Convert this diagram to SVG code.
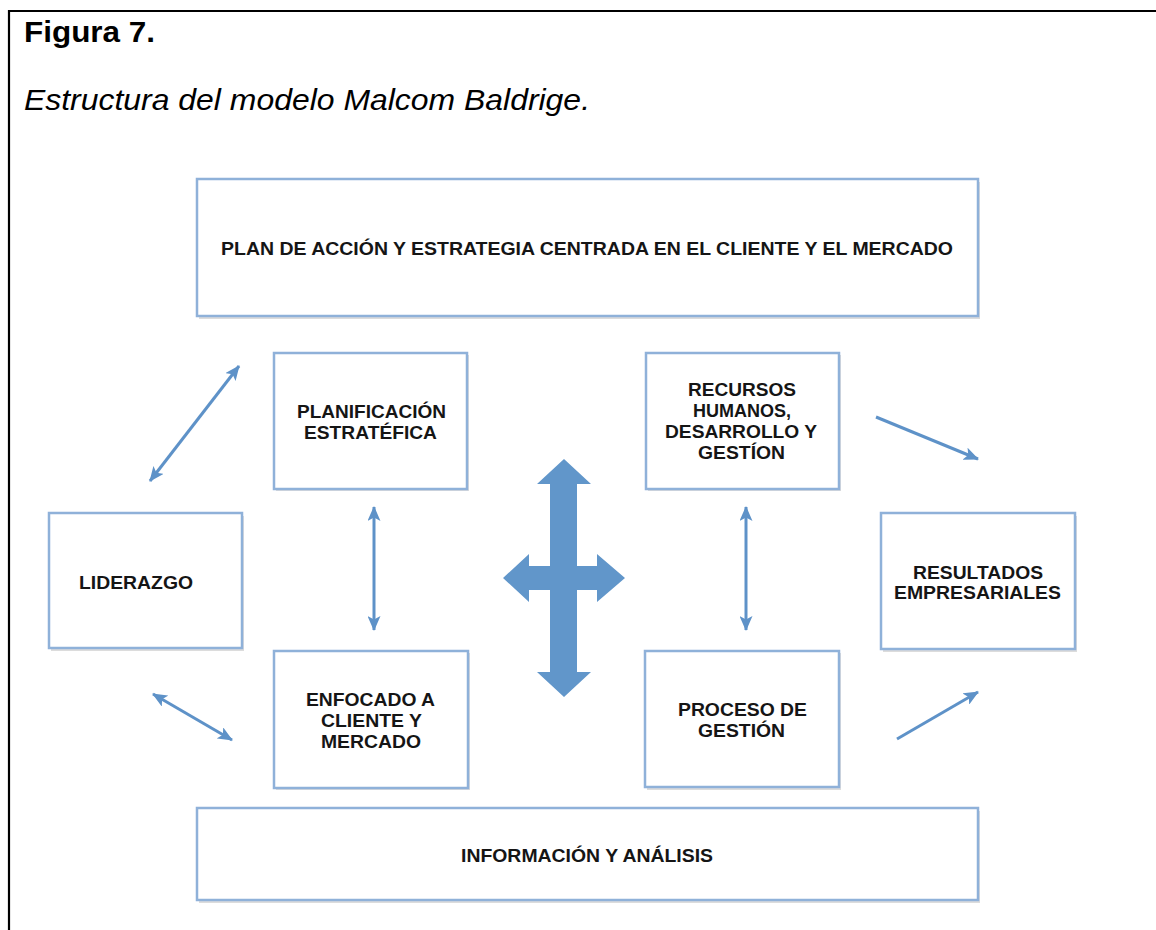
<svg xmlns="http://www.w3.org/2000/svg" width="1156" height="930" viewBox="0 0 1156 930">
  <defs>
    <style>
      .frame { stroke: #000; stroke-width: 2.2; fill: none; }
      .box { fill: #fff; stroke: #8fb1d9; stroke-width: 2.5; }
      .shadow { fill: #dcdcdc; stroke: none; }
      .lbl { font-family: "Liberation Sans", Arial, sans-serif; font-weight: bold; font-size: 18px; fill: #151515; }
      .title { font-family: "Liberation Sans", Arial, sans-serif; font-weight: bold; font-size: 29px; fill: #000; }
      .sub { font-family: "Liberation Sans", Arial, sans-serif; font-style: italic; font-size: 29px; fill: #000; }
      .conn { stroke: #5e92c8; stroke-width: 3; fill: none; }
      .big { fill: #6196ca; }
    </style>
    <marker id="ah" viewBox="0 0 15 13" refX="14" refY="6.5" markerWidth="15" markerHeight="13" markerUnits="userSpaceOnUse" orient="auto-start-reverse">
      <path d="M0,0 L15,6.5 L0,13 L3.5,6.5 Z" fill="#5e92c8"/>
    </marker>
  </defs>

  <g id="frame">
    <line class="frame" x1="9" y1="11" x2="1156" y2="11"/>
    <line class="frame" x1="9" y1="10" x2="9" y2="930"/>
  </g>

  <g id="caption">
    <text class="title" x="24" y="42" textLength="131" lengthAdjust="spacingAndGlyphs">Figura 7.</text>
    <text class="sub" x="24" y="110" textLength="566" lengthAdjust="spacingAndGlyphs">Estructura del modelo Malcom Baldrige.</text>
  </g>

  <g id="node-plan">
    <rect class="shadow" x="199" y="182" width="781" height="137"/>
    <rect class="box" x="197" y="179" width="781" height="137"/>
    <text class="lbl" x="221" y="255" textLength="732" lengthAdjust="spacingAndGlyphs">PLAN DE ACCIÓN Y ESTRATEGIA CENTRADA EN EL CLIENTE Y EL MERCADO</text>
  </g>

  <g id="node-planificacion">
    <rect class="shadow" x="276" y="355" width="193" height="136"/>
    <rect class="box" x="274" y="353" width="193" height="136"/>
    <text class="lbl" x="297" y="418" textLength="149" lengthAdjust="spacingAndGlyphs">PLANIFICACIÓN</text>
    <text class="lbl" x="304" y="439" textLength="133" lengthAdjust="spacingAndGlyphs">ESTRATÉFICA</text>
  </g>

  <g id="node-recursos">
    <rect class="shadow" x="648" y="355" width="193" height="136"/>
    <rect class="box" x="646" y="353" width="193" height="136"/>
    <text class="lbl" x="688" y="396" textLength="108" lengthAdjust="spacingAndGlyphs">RECURSOS</text>
    <text class="lbl" x="693" y="417" textLength="98" lengthAdjust="spacingAndGlyphs">HUMANOS,</text>
    <text class="lbl" x="665" y="438" textLength="152" lengthAdjust="spacingAndGlyphs">DESARROLLO Y</text>
    <text class="lbl" x="698" y="459" textLength="87" lengthAdjust="spacingAndGlyphs">GESTÍON</text>
  </g>

  <g id="node-liderazgo">
    <rect class="shadow" x="51" y="516" width="193" height="135"/>
    <rect class="box" x="49" y="513" width="193" height="135"/>
    <text class="lbl" x="79" y="589" textLength="114" lengthAdjust="spacingAndGlyphs">LIDERAZGO</text>
  </g>

  <g id="node-resultados">
    <rect class="shadow" x="883" y="516" width="194" height="136"/>
    <rect class="box" x="881" y="513" width="194" height="136"/>
    <text class="lbl" x="913" y="579" textLength="130" lengthAdjust="spacingAndGlyphs">RESULTADOS</text>
    <text class="lbl" x="894" y="599" textLength="167" lengthAdjust="spacingAndGlyphs">EMPRESARIALES</text>
  </g>

  <g id="node-enfocado">
    <rect class="shadow" x="276" y="653" width="194" height="137"/>
    <rect class="box" x="274" y="651" width="194" height="137"/>
    <text class="lbl" x="306" y="706" textLength="129" lengthAdjust="spacingAndGlyphs">ENFOCADO A</text>
    <text class="lbl" x="321" y="727" textLength="101" lengthAdjust="spacingAndGlyphs">CLIENTE Y</text>
    <text class="lbl" x="321" y="748" textLength="100" lengthAdjust="spacingAndGlyphs">MERCADO</text>
  </g>

  <g id="node-proceso">
    <rect class="shadow" x="647" y="653" width="194" height="137"/>
    <rect class="box" x="645" y="651" width="194" height="136"/>
    <text class="lbl" x="678" y="716" textLength="129" lengthAdjust="spacingAndGlyphs">PROCESO DE</text>
    <text class="lbl" x="698" y="737" textLength="87" lengthAdjust="spacingAndGlyphs">GESTIÓN</text>
  </g>

  <g id="node-informacion">
    <rect class="shadow" x="199" y="811" width="781" height="92"/>
    <rect class="box" x="197" y="808" width="781" height="92"/>
    <text class="lbl" x="461" y="862" textLength="252" lengthAdjust="spacingAndGlyphs">INFORMACIÓN Y ANÁLISIS</text>
  </g>

  <g id="connectors">
    <line class="conn" x1="150" y1="481" x2="239" y2="366" marker-start="url(#ah)" marker-end="url(#ah)"/>
    <line class="conn" x1="153" y1="694" x2="232" y2="740" marker-start="url(#ah)" marker-end="url(#ah)"/>
    <line class="conn" x1="374" y1="507" x2="374" y2="630" marker-start="url(#ah)" marker-end="url(#ah)"/>
    <line class="conn" x1="746" y1="507" x2="746" y2="630" marker-start="url(#ah)" marker-end="url(#ah)"/>
    <line class="conn" x1="876" y1="417" x2="978" y2="459" marker-end="url(#ah)"/>
    <line class="conn" x1="897" y1="739" x2="978" y2="692" marker-end="url(#ah)"/>
    <path class="big" d="M564,459 L591,484 L577,484 L577,566 L597,566 L597,554 L625,578 L597,602 L597,590 L577,590 L577,672 L591,672 L564,697 L537,672 L550,672 L550,590 L529,590 L529,602 L503,578 L529,554 L529,566 L550,566 L550,484 L537,484 Z"/>
  </g>
</svg>
